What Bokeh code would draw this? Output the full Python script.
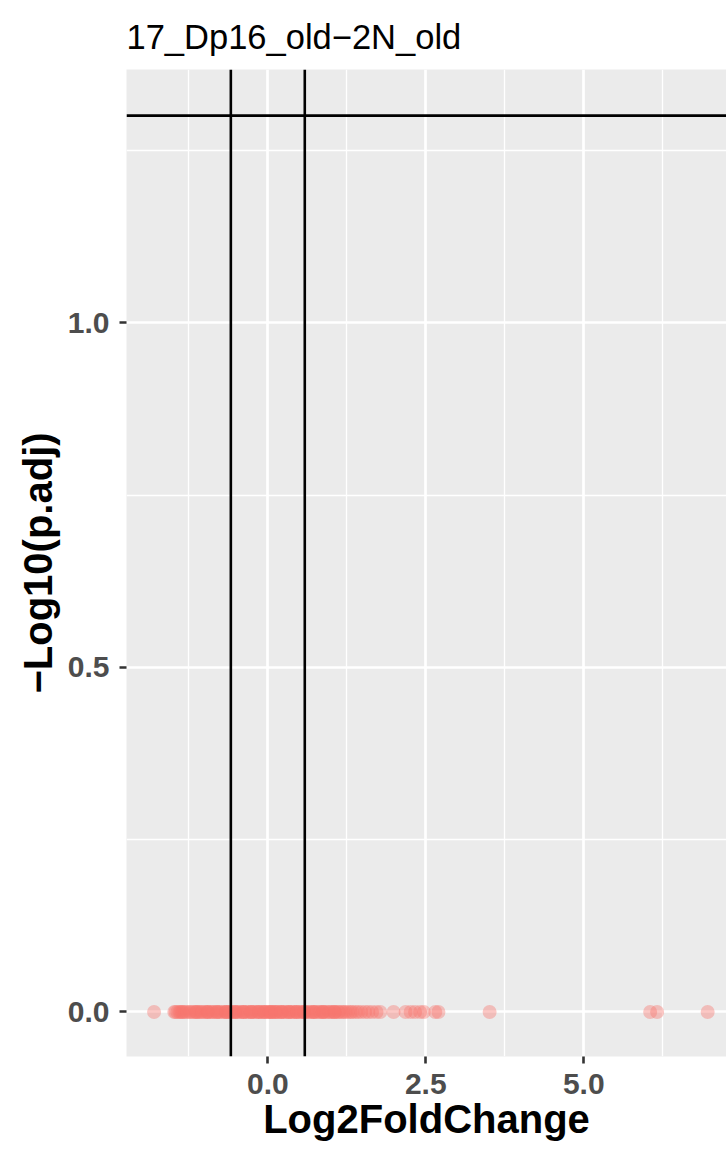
from bokeh.plotting import figure
from bokeh.models import Range1d, FixedTicker, Span, PrintfTickFormatter
from bokeh.embed import file_html
from bokeh.resources import INLINE

# ---- data ----
title_text = "17_Dp16_old\u22122N_old"
x_label = "Log2FoldChange"
y_label = "\u2212Log10(p.adj)"

# dense band of genes, all with p.adj = 1 (-log10 = 0)
lfc_dense = [
    -1.48, -1.46, -1.43, -1.40, -1.38, -1.34, -1.31, -1.28, -1.24, -1.22,
    -1.18, -1.15, -1.13, -1.09, -1.06, -1.04, -1.00, -0.97, -0.95, -0.91,
    -0.88, -0.86, -0.81, -0.79, -0.76, -0.73, -0.69, -0.66, -0.64, -0.61,
    -0.58, -0.55, -0.52, -0.49, -0.47, -0.43, -0.40, -0.38, -0.34, -0.31,
    -0.27, -0.25, -0.22, -0.19, -0.15, -0.13, -0.10, -0.06, -0.04, -0.01,
    0.02, 0.03, 0.06, 0.08, 0.12, 0.14, 0.17, 0.21, 0.23, 0.26,
    0.29, 0.33, 0.35, 0.38, 0.41, 0.44, 0.46, 0.50, 0.53, 0.56,
    0.58, 0.62, 0.65, 0.68, 0.72, 0.74, 0.77, 0.81, 0.83, 0.87,
    0.89, 0.92, 0.96, 0.98, 1.01, 1.05, 1.07, 1.11, 1.13, 1.17,
    1.20, 1.23, 1.27, 1.31, 1.34, 1.39, 1.43, 1.48, 1.54, 1.59,
    1.65, 1.72, 1.78,
    -0.95, -0.81, -0.66, -0.52, -0.38, -0.27, -0.15, -0.06, 0.05,
    0.12, 0.21, 0.33, 0.46, 0.58, 0.72, 0.87, 1.05, -1.36, -1.12,
]
# isolated genes
lfc_sparse = [-1.80, 1.99, 2.18, 2.26, 2.33, 2.41, 2.47, 2.65, 2.70,
              3.51, 6.05, 6.16, 6.96]
lfc = lfc_dense + lfc_sparse
neg_log10_padj = [0.0] * len(lfc)

fc_cutoffs = [-0.585, 0.585]
p_cutoff = 1.301

x_ticks = [0.0, 2.5, 5.0]
x_minor = [-1.25, 1.25, 3.75, 6.25]
y_ticks = [0.0, 0.5, 1.0]
y_minor = [0.25, 0.75, 1.25]

FONT = "Liberation Sans"

p = figure(width=726, height=1159, output_backend="svg", toolbar_location=None,
           x_range=Range1d(-2.236, 7.258), y_range=Range1d(-0.0646, 1.3679),
           min_border_left=126, min_border_right=0, min_border_top=69,
           min_border_bottom=103)

p.background_fill_color = "#EBEBEB"
p.border_fill_color = "white"
p.outline_line_color = None

p.title.text = title_text
p.title.text_font = FONT
p.title.text_font_size = "34.5px"
p.title.text_font_style = "normal"
p.title.text_color = "black"
p.title.align = "left"
p.title.offset = 0
p.title.standoff = 28

p.scatter(lfc, neg_log10_padj, size=14, fill_color="#F8766D", fill_alpha=0.4,
          line_color=None)

for v in fc_cutoffs:
    p.add_layout(Span(location=v, dimension="height", line_color="black",
                      line_width=2.6))
p.add_layout(Span(location=p_cutoff, dimension="width", line_color="black",
                  line_width=2.6))

p.xaxis.ticker = FixedTicker(ticks=x_ticks, minor_ticks=x_minor)
p.yaxis.ticker = FixedTicker(ticks=y_ticks, minor_ticks=y_minor)
p.xaxis.formatter = PrintfTickFormatter(format="%.1f")
p.yaxis.formatter = PrintfTickFormatter(format="%.1f")

for g in (p.xgrid, p.ygrid):
    g.grid_line_color = "white"
    g.grid_line_width = 2.7
    g.minor_grid_line_color = "white"
    g.minor_grid_line_width = 1.3

for ax in (p.xaxis, p.yaxis):
    ax.axis_line_color = None
    ax.major_tick_in = 0
    ax.major_tick_out = 7
    ax.major_tick_line_color = "#333333"
    ax.major_tick_line_width = 2.6
    ax.minor_tick_line_color = None
    ax.major_label_text_font = FONT
    ax.major_label_text_font_size = "30px"
    ax.major_label_text_font_style = "bold"
    ax.major_label_text_color = "#4D4D4D"
    ax.axis_label_text_font = FONT
    ax.axis_label_text_font_size = "40px"
    ax.axis_label_text_font_style = "bold"
    ax.axis_label_text_color = "black"

p.xaxis.major_label_standoff = 10
p.xaxis.axis_label_standoff = 0
p.yaxis.major_label_standoff = 10
p.yaxis.axis_label_standoff = 5

p.xaxis.axis_label = x_label
p.yaxis.axis_label = y_label

open("out.html", "w").write(file_html(p, INLINE))
